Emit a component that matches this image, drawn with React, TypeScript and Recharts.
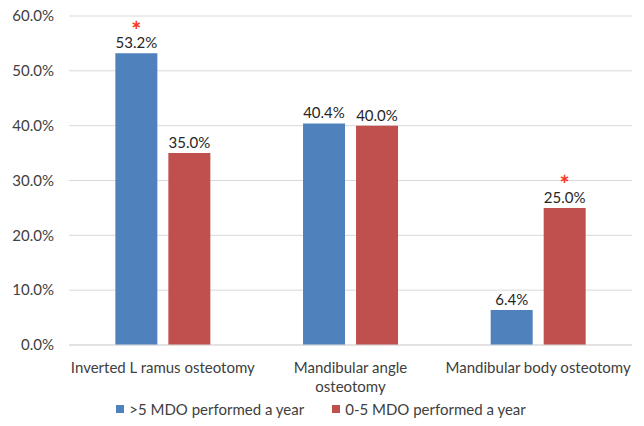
import React from "react";
import { BarChart, Bar, XAxis, YAxis, CartesianGrid, Legend, LabelList } from "recharts";

const categories = ["Inverted L ramus osteotomy", "Mandibular angle\nosteotomy", "Mandibular body osteotomy"];
const seriesHigh = [53.2, 40.4, 6.4];
const seriesLow = [35.0, 40.0, 25.0];
const starsHigh = [true, false, false];
const starsLow = [false, false, true];
const yTicks = [0, 10, 20, 30, 40, 50, 60];
const seriesNames = [">5 MDO performed a year", "0-5 MDO performed a year"];

const BLUE = "#4F81BD";
const RED = "#C0504D";
const FONT = "Lato, 'Open Sans', sans-serif";
const TEXT = "#404040";

const data = categories.map((c, i) => ({
  name: c,
  high: seriesHigh[i],
  low: seriesLow[i],
}));

const makeLabel = (stars: boolean[]) => (props: any) => {
  const { x, y, width, value, index } = props;
  const cx = x + width / 2;
  return (
    <g>
      <text x={cx} y={y - 11} textAnchor="middle" dominantBaseline="central" fontFamily={FONT} fontSize={15} fill="#262626">
        {`${Number(value).toFixed(1)}%`}
      </text>
      {stars[index] ? (
        <text x={cx} y={y - 29} textAnchor="middle" dominantBaseline="central" fontFamily="'DejaVu Sans', sans-serif" fontSize={13} fontWeight="bold" fill="#FF3A24">
          {"\u2217"}
        </text>
      ) : null}
    </g>
  );
};

const CatTick = (props: any) => {
  const { x, y, payload } = props;
  const lines = String(payload.value).split("\n");
  return (
    <g>
      {lines.map((l, i) => (
        <text key={i} x={x} y={y + 14 + i * 19} textAnchor="middle" dominantBaseline="central" fontFamily={FONT} fontSize={15} fill={TEXT}>
          {l}
        </text>
      ))}
    </g>
  );
};

const LegendContent = () => (
  <div style={{ display: "flex", justifyContent: "center", alignItems: "center", height: 26, marginTop: -4, paddingLeft: 10, fontFamily: FONT, fontSize: 15, color: TEXT }}>
    {[BLUE, RED].map((c, i) => (
      <div key={i} style={{ display: "flex", alignItems: "center", marginLeft: i ? 28 : 0 }}>
        <span style={{ display: "inline-block", width: 8, height: 8, background: c, marginRight: 5 }} />
        <span>{seriesNames[i]}</span>
      </div>
    ))}
  </div>
);

export default function App() {
  return (
    <div style={{ position: "absolute", left: 0, top: 0, width: 644, height: 426, background: "#fff" }}>
      <BarChart width={644} height={426} data={data} margin={{ top: 16, right: 12, left: 0, bottom: 0 }} barCategoryGap="24.7%" barGap={11}>
        <CartesianGrid vertical={false} stroke="#D9D9D9" />
        <XAxis dataKey="name" tick={<CatTick />} tickLine={false} axisLine={{ stroke: "#D9D9D9" }} height={55} interval={0} />
        <YAxis
          domain={[0, 60]}
          ticks={yTicks}
          width={69}
          tickLine={false}
          axisLine={false}
          tickSize={0}
          tickMargin={15}
          tickFormatter={(v: number) => `${v.toFixed(1)}%`}
          tick={{ fontFamily: FONT, fontSize: 15, fill: TEXT }}
        />
        <Legend verticalAlign="bottom" height={26} content={<LegendContent />} />
        <Bar dataKey="high" fill={BLUE} isAnimationActive={false}>
          <LabelList dataKey="high" content={makeLabel(starsHigh)} />
        </Bar>
        <Bar dataKey="low" fill={RED} isAnimationActive={false}>
          <LabelList dataKey="low" content={makeLabel(starsLow)} />
        </Bar>
      </BarChart>
    </div>
  );
}
